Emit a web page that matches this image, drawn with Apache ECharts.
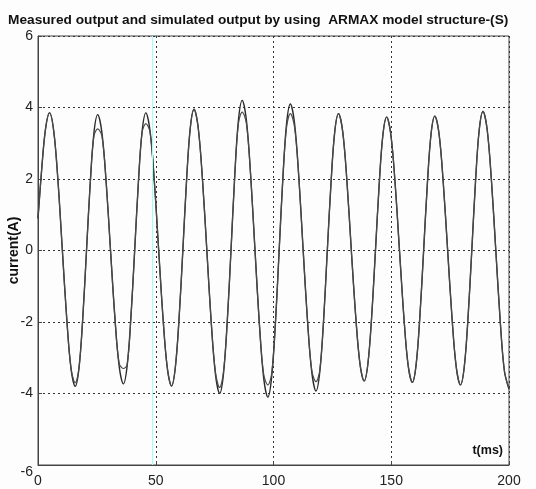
<!DOCTYPE html>
<html lang="en">
<head>
    <meta charset="UTF-8">
    <title>ARMAX output</title>
    <script src="https://cdn.jsdelivr.net/npm/echarts@6/dist/echarts.min.js"></script>
    <style>
        html,body{
            margin: 0;
            height: 100%;
            background: #fdfdfd;
        }
    </style>
</head>
<body>
<!--chart container-->
<div id="main" style="width: 536px;height: 489px"></div>
<script>
    // time (ms) at peaks, troughs and between them
    var timeMs = [0, 1.6, 3.2, 4.9, 6.7, 8.5, 10.35, 12.2, 14.0, 15.8, 17.4, 19.0, 20.6, 22.2, 23.75,
        25.35, 27.15, 28.95, 30.8, 32.65, 34.45, 36.25, 37.85, 39.45, 41.05, 42.65, 44.2,
        45.8, 47.6, 49.4, 51.25, 53.1, 54.9, 56.7, 58.3, 59.9, 61.5, 63.1, 64.65,
        66.25, 68.05, 69.85, 71.7, 73.55, 75.35, 77.15, 78.75, 80.35, 81.95, 83.55, 85.1,
        86.7, 88.5, 90.3, 92.15, 94.0, 95.8, 97.6, 99.2, 100.8, 102.4, 104.0, 105.55,
        107.15, 108.95, 110.75, 112.6, 114.45, 116.25, 118.05, 119.65, 121.25, 122.85, 124.45, 126.0,
        127.6, 129.4, 131.2, 133.05, 134.9, 136.7, 138.5, 140.1, 141.7, 143.3, 144.9, 146.45,
        148.05, 149.85, 151.65, 153.5, 155.35, 157.15, 158.95, 160.55, 162.15, 163.75, 165.35, 166.9,
        168.5, 170.3, 172.1, 173.95, 175.8, 177.6, 179.4, 181.0, 182.6, 184.2, 185.8, 187.35,
        188.95, 190.75, 192.55, 194.4, 196.25, 198.05, 200];

    // measured current (A)
    var measured = [0.9, 2.3, 3.4, 3.85, 3.33, 1.93, 0, -1.9, -3.29, -3.8, -3.29, -1.9, 0, 1.9, 3.29,
        3.8, 3.29, 1.9, 0, -1.87, -3.23, -3.73, -3.23, -1.87, 0, 1.93, 3.33,
        3.85, 3.33, 1.93, 0, -1.9, -3.28, -3.79, -3.28, -1.9, 0, 1.98, 3.42,
        3.95, 3.42, 1.98, 0, -2.0, -3.46, -4.0, -3.46, -2.0, 0, 2.1, 3.64,
        4.2, 3.64, 2.1, 0, -2.05, -3.55, -4.1, -3.55, -2.05, 0, 2.05, 3.55,
        4.1, 3.55, 2.05, 0, -1.97, -3.4, -3.93, -3.4, -1.97, 0, 1.92, 3.32,
        3.83, 3.32, 1.92, 0, -1.83, -3.16, -3.65, -3.16, -1.83, 0, 1.87, 3.23,
        3.73, 3.23, 1.87, 0, -1.85, -3.2, -3.69, -3.2, -1.85, 0, 1.88, 3.26,
        3.76, 3.26, 1.88, 0, -1.88, -3.26, -3.76, -3.26, -1.88, 0, 1.95, 3.37,
        3.89, 3.37, 1.95, 0, -1.95, -3.37, -3.88];

    // simulated current (A), ARMAX model
    var simulated = [0.9, 2.3, 3.4, 3.85, 3.33, 1.93, 0, -1.9, -3.29, -3.7, -3.29, -1.9, 0, 1.9, 3.2,
        3.4, 3.2, 1.9, 0, -1.87, -3.15, -3.3, -3.2, -1.87, 0, 1.93, 3.3,
        3.55, 3.3, 1.93, 0, -1.9, -3.28, -3.79, -3.28, -1.9, 0, 1.98, 3.42,
        3.95, 3.42, 1.98, 0, -2.0, -3.4, -3.83, -3.4, -2.0, 0, 2.1, 3.55,
        3.87, 3.55, 2.1, 0, -2.05, -3.45, -3.76, -3.45, -2.05, 0, 2.05, 3.45,
        3.83, 3.45, 2.05, 0, -1.97, -3.35, -3.67, -3.35, -1.97, 0, 1.92, 3.32,
        3.83, 3.32, 1.92, 0, -1.83, -3.16, -3.65, -3.16, -1.83, 0, 1.87, 3.23,
        3.73, 3.23, 1.87, 0, -1.85, -3.2, -3.69, -3.2, -1.85, 0, 1.88, 3.26,
        3.76, 3.26, 1.88, 0, -1.88, -3.26, -3.76, -3.26, -1.88, 0, 1.95, 3.37,
        3.89, 3.37, 1.95, 0, -1.95, -3.37, -3.85];

    function pairs(ys) {
        var out = [];
        for (var i = 0; i < timeMs.length; i++) {
            out.push([timeMs[i], ys[i]]);
        }
        return out;
    }

    var myChart = echarts.init(document.getElementById('main'));

    var gridLine = {
        show: true,
        lineStyle: { color: '#333', type: [2, 3], width: 1 }
    };

    var option = {
        backgroundColor: '#fdfdfd',
        animation: false,
        title: {
            text: 'Measured output and simulated output by using  ARMAX model structure-(S)',
            left: 3,
            top: 8,
            textStyle: {
                fontFamily: 'Liberation Sans',
                fontSize: 13.7,
                fontWeight: 'bold',
                color: '#111'
            }
        },
        grid: {
            left: 38,
            right: 27,
            top: 36,
            bottom: 24,
            outerBoundsMode: 'none',
            containLabel: false,
            show: true,
            borderColor: '#444',
            borderWidth: 1
        },
        xAxis: {
            type: 'value',
            min: 0,
            max: 200,
            interval: 50,
            name: 't(ms)',
            nameLocation: 'end',
            nameGap: -6,
            nameTextStyle: {
                align: 'right',
                verticalAlign: 'bottom',
                padding: [0, 0, 8, 0],
                fontFamily: 'Liberation Sans',
                fontSize: 12.5,
                fontWeight: 'bold',
                color: '#111'
            },
            axisLine: { onZero: false, lineStyle: { color: '#444' } },
            axisTick: { inside: true, length: 4, lineStyle: { color: '#444' } },
            axisLabel: {
                margin: 9,
                fontFamily: 'Liberation Sans',
                fontSize: 14,
                color: '#222'
            },
            splitLine: gridLine
        },
        yAxis: {
            type: 'value',
            min: -6,
            max: 6,
            interval: 2,
            name: 'current(A)',
            nameLocation: 'middle',
            nameGap: 17,
            nameMoveOverlap: false,
            nameTextStyle: {
                fontFamily: 'Liberation Sans',
                fontSize: 14,
                fontWeight: 'bold',
                color: '#111'
            },
            axisLine: { onZero: false, lineStyle: { color: '#444' } },
            axisTick: { inside: true, length: 4, lineStyle: { color: '#444' } },
            axisLabel: {
                margin: 5,
                fontFamily: 'Liberation Sans',
                fontSize: 14,
                color: '#222',
                verticalAlignMinLabel: 'top'
            },
            splitLine: gridLine
        },
        series: [
            {
                name: 'measured',
                type: 'line',
                data: pairs(measured),
                smooth: 0.35,
                symbol: 'none',
                lineStyle: { color: '#2a2a2a', width: 1.4 },
                markLine: {
                    silent: true,
                    symbol: 'none',
                    label: { show: false },
                    lineStyle: { color: '#c4eff1', type: 'solid', width: 1 },
                    data: [{ xAxis: 48.5 }]
                }
            },
            {
                name: 'simulated',
                type: 'line',
                data: pairs(simulated),
                smooth: 0.35,
                symbol: 'none',
                lineStyle: { color: '#4a4a4a', width: 1.2 }
            }
        ]
    };

    myChart.setOption(option);
</script>
</body>
</html>
